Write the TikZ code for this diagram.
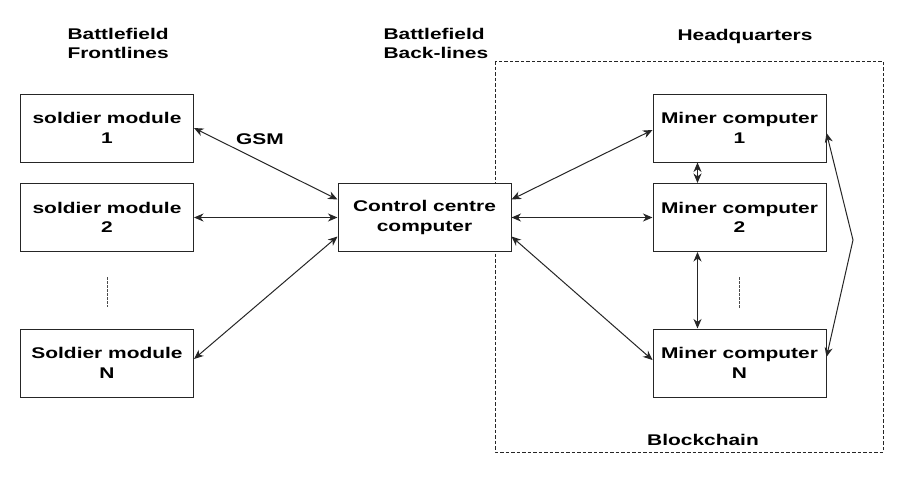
\documentclass[tikz,border=0pt]{standalone}
\usepackage{fontspec}
\setmainfont{Liberation Sans}[FakeStretch=1.35]
\usepackage{tikz}
\usetikzlibrary{arrows.meta,calc,positioning}
\tikzset{
  unit/.style={
    draw=black!85,
    line width=1pt,
    fill=white,
    align=center,
    font=\fontsize{15.5}{19.5}\selectfont\bfseries,
    minimum width=173pt,
    minimum height=68pt,
    inner sep=2pt
  },
  heading/.style={font=\fontsize{15.5}{19}\selectfont\bfseries, align=left},
  link/.style={line width=1pt, draw=black!85, {Stealth[length=9.5pt,width=8pt,inset=3pt]}-{Stealth[length=9.5pt,width=8pt,inset=3pt]}},
  gap/.style={line width=0.8pt, draw=black!70, dash pattern=on 2.5pt off 1.5pt},
  zone/.style={line width=0.8pt, draw=black!85, dash pattern=on 3.5pt off 2pt}
}

\begin{document}
\begin{tikzpicture}[x=1pt,y=-1pt]
\path[use as bounding box] (0,0) rectangle (908,482);
\fill[white] (0,0) rectangle (908,482);

% headquarters zone
\draw[zone] (495,61) rectangle (883,452);
\node[heading, anchor=north west] (front) at (64,25) {Battlefield\\Frontlines};
\node[heading, anchor=north west] (back) at (380,25) {Battlefield\\Back-lines};
\node[heading] (hq) at (745,36) {Headquarters};
\node[heading] (chain) at (703,440) {Blockchain};

% frontline modules
\node[unit] (sol1) at (107,128) {soldier module\\1};
\node[unit] (sol2) at (107,217.5) {soldier module\\2};
\node[unit] (solN) at (107,363) {Soldier module\\N};
\draw[gap] (107,277) -- (107,307);

% control centre
\node[unit] (ctrl) at (424.5,217.5) {Control centre\\computer};

% miners
\node[unit] (min1) at (739.5,128) {Miner computer\\1};
\node[unit] (min2) at (739.5,217.5) {Miner computer\\2};
\node[unit] (minN) at (739.5,363) {Miner computer\\N};
\draw[gap] (739,277) -- (739,308);

\node[heading] (gsm) at (260,139) {GSM};
\draw[link] (sol1.east) -- ([yshift=18pt]ctrl.west);
\draw[link] (sol2.east) -- (ctrl.west);
\draw[link] ([yshift=4pt]solN.east) -- ([yshift=-19pt]ctrl.west);

\draw[link] ([yshift=18pt]ctrl.east) -- ([yshift=-2pt]min1.west);
\draw[link] (ctrl.east) -- (min2.west);
\draw[link] ([yshift=-19pt]ctrl.east) -- ([yshift=3pt]minN.west);

\draw[link] ([xshift=-42pt]min1.south) -- ([xshift=-42pt]min2.north);
\draw[link] ([xshift=-42pt]min2.south) -- ([xshift=-42pt]minN.north);

\coordinate (ring) at (853,240);
\draw[link] ([yshift=-5pt]min1.east) -- (ring) -- ([yshift=6pt]minN.east);
\end{tikzpicture}
\end{document}
